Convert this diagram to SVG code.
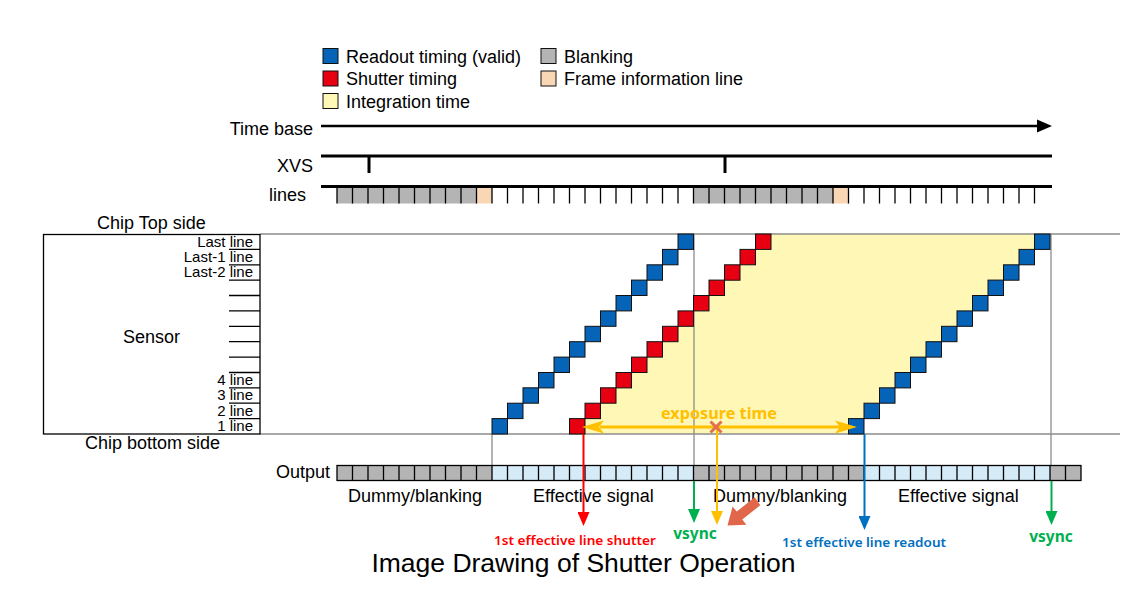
<svg xmlns="http://www.w3.org/2000/svg" width="1146" height="606" viewBox="0 0 1146 606">
<style>
text{font-family:"Liberation Sans",Arial,sans-serif;fill:#000}
.t18{font-size:18px}
.t15{font-size:15px}
.note{font-family:"Noto Sans","DejaVu Sans",sans-serif}
.blue{fill:#0563B8;stroke:#111;stroke-width:1}
.red{fill:#E60012;stroke:#111;stroke-width:1}
.gray{fill:#B4B4B4}
.peach{fill:#F9D7B5}
.lblue{fill:#D6EBF8}
.yel{fill:#FFF7B5}
.guide{stroke:#8C8C8C;stroke-width:1.3;fill:none}
.thick{stroke:#000;stroke-width:3;fill:none}
.tick{stroke:#000;stroke-width:1.3;fill:none}
</style>
<defs>
<marker id="ah" viewBox="0 0 14 12" refX="11" refY="6" markerWidth="14" markerHeight="12" markerUnits="userSpaceOnUse" orient="auto"><path d="M0,0L14,6L0,12z" fill="context-stroke"/></marker>
</defs>

<g id="legend">
<rect x="323" y="48.5" width="15" height="15" class="blue"/>
<text x="346" y="62.5" class="t18">Readout timing (valid)</text>
<rect x="323" y="71" width="15" height="15" class="red"/>
<text x="346" y="85" class="t18">Shutter timing</text>
<rect x="323" y="93.5" width="15" height="15" class="yel" stroke="#111" stroke-width="1"/>
<text x="346" y="107.5" class="t18">Integration time</text>
<rect x="541" y="48.5" width="15" height="15" class="gray" stroke="#111" stroke-width="1"/>
<text x="564" y="62.5" class="t18">Blanking</text>
<rect x="541" y="71" width="15" height="15" class="peach" stroke="#111" stroke-width="1"/>
<text x="564" y="85" class="t18">Frame information line</text>
</g>

<g id="timebase">
<text x="313" y="134.5" class="t18" text-anchor="end">Time base</text>
<line x1="321" y1="126" x2="1040" y2="126" stroke="#000" stroke-width="2.5"/>
<path d="M1052,126L1037,119.5L1037,132.5z" fill="#000"/>
</g>

<g id="xvs">
<text x="313" y="171.5" class="t18" text-anchor="end">XVS</text>
<line x1="321" y1="156" x2="1052" y2="156" class="thick"/>
<line x1="369" y1="156" x2="369" y2="173" class="thick"/>
<line x1="725" y1="156" x2="725" y2="173" class="thick"/>
</g>

<g id="lines">
<text x="306" y="201" class="t18" text-anchor="end">lines</text>
<rect x="337" y="187" width="139.5" height="16.5" class="gray"/>
<rect x="476.5" y="187" width="15.5" height="16.5" class="peach"/>
<rect x="693.5" y="187" width="139.5" height="16.5" class="gray"/>
<rect x="833" y="187" width="15.5" height="16.5" class="peach"/>
<path class="tick" d="M337 187v16.5M352.5 187v16.5M368 187v16.5M383.5 187v16.5M399 187v16.5M414.5 187v16.5M430 187v16.5M445.5 187v16.5M461 187v16.5M476.5 187v16.5M492 187v16.5M507.5 187v16.5M523 187v16.5M538.5 187v16.5M554 187v16.5M569.5 187v16.5M585 187v16.5M600.5 187v16.5M616 187v16.5M631.5 187v16.5M647 187v16.5M662.5 187v16.5M678 187v16.5M693.5 187v16.5M709 187v16.5M724.5 187v16.5M740 187v16.5M755.5 187v16.5M771 187v16.5M786.5 187v16.5M802 187v16.5M817.5 187v16.5M833 187v16.5M848.5 187v16.5M864 187v16.5M879.5 187v16.5M895 187v16.5M910.5 187v16.5M926 187v16.5M941.5 187v16.5M957 187v16.5M972.5 187v16.5M988 187v16.5M1003.5 187v16.5M1019 187v16.5M1034.5 187v16.5"/>
<line x1="321" y1="186.5" x2="1052" y2="186.5" class="thick"/>
</g>

<g id="integration">
<polygon class="yel" points="585,434 585,418.6 600.5,418.6 600.5,403.2 616,403.2 616,387.8 631.5,387.8 631.5,372.5 647,372.5 647,357.1 662.5,357.1 662.5,341.7 678,341.7 678,326.3 693.5,326.3 693.5,310.9 709,310.9 709,295.5 724.5,295.5 724.5,280.1 740,280.1 740,264.8 755.5,264.8 755.5,249.4 771,249.4 771,234 1034.5,234 1034.5,249.4 1019,249.4 1019,264.8 1003.5,264.8 1003.5,280.1 988,280.1 988,295.5 972.5,295.5 972.5,310.9 957,310.9 957,326.3 941.5,326.3 941.5,341.7 926,341.7 926,357.1 910.5,357.1 910.5,372.5 895,372.5 895,387.8 879.5,387.8 879.5,403.2 864,403.2 864,418.6 848.5,418.6 848.5,434"/>
</g>

<g id="guides">
<line x1="260" y1="234" x2="1120" y2="234" class="guide"/>
<line x1="260" y1="434" x2="1120" y2="434" class="guide"/>
<line x1="492" y1="434" x2="492" y2="465.5" class="guide"/>
<line x1="694" y1="234" x2="694" y2="465.5" class="guide"/>
<line x1="1051" y1="234" x2="1051" y2="465.5" class="guide"/>
</g>

<g id="sensor">
<rect x="43.5" y="234.5" width="216.5" height="199.5" fill="none" stroke="#000" stroke-width="1.3"/>
<text x="97" y="228.5" class="t18">Chip Top side</text>
<text x="85" y="449" class="t18">Chip bottom side</text>
<text x="123" y="343" class="t18">Sensor</text>
<path class="tick" d="M229 249.4h31M229 264.8h31M229 280.1h31M229 295.5h31M229 310.9h31M229 326.3h31M229 341.7h31M229 357.1h31M229 372.5h31M229 387.8h31M229 403.2h31M229 418.6h31"/>
<g class="t15" text-anchor="end">
<text x="253" y="246.5">Last line</text>
<text x="253" y="261.9">Last-1 line</text>
<text x="253" y="277.3">Last-2 line</text>
<text x="253" y="385">4 line</text>
<text x="253" y="400.3">3 line</text>
<text x="253" y="415.7">2 line</text>
<text x="253" y="431.1">1 line</text>
</g>
</g>

<g id="readout1">
<rect class="blue" x="492" y="418.6" width="15.5" height="15.4"/>
<rect class="blue" x="507.5" y="403.2" width="15.5" height="15.4"/>
<rect class="blue" x="523" y="387.8" width="15.5" height="15.4"/>
<rect class="blue" x="538.5" y="372.5" width="15.5" height="15.4"/>
<rect class="blue" x="554" y="357.1" width="15.5" height="15.4"/>
<rect class="blue" x="569.5" y="341.7" width="15.5" height="15.4"/>
<rect class="blue" x="585" y="326.3" width="15.5" height="15.4"/>
<rect class="blue" x="600.5" y="310.9" width="15.5" height="15.4"/>
<rect class="blue" x="616" y="295.5" width="15.5" height="15.4"/>
<rect class="blue" x="631.5" y="280.1" width="15.5" height="15.4"/>
<rect class="blue" x="647" y="264.8" width="15.5" height="15.4"/>
<rect class="blue" x="662.5" y="249.4" width="15.5" height="15.4"/>
<rect class="blue" x="678" y="234" width="15.5" height="15.4"/>
</g>

<g id="shutter">
<rect class="red" x="569.5" y="418.6" width="15.5" height="15.4"/>
<rect class="red" x="585" y="403.2" width="15.5" height="15.4"/>
<rect class="red" x="600.5" y="387.8" width="15.5" height="15.4"/>
<rect class="red" x="616" y="372.5" width="15.5" height="15.4"/>
<rect class="red" x="631.5" y="357.1" width="15.5" height="15.4"/>
<rect class="red" x="647" y="341.7" width="15.5" height="15.4"/>
<rect class="red" x="662.5" y="326.3" width="15.5" height="15.4"/>
<rect class="red" x="678" y="310.9" width="15.5" height="15.4"/>
<rect class="red" x="693.5" y="295.5" width="15.5" height="15.4"/>
<rect class="red" x="709" y="280.1" width="15.5" height="15.4"/>
<rect class="red" x="724.5" y="264.8" width="15.5" height="15.4"/>
<rect class="red" x="740" y="249.4" width="15.5" height="15.4"/>
<rect class="red" x="755.5" y="234" width="15.5" height="15.4"/>
</g>

<g id="readout2">
<rect class="blue" x="848.5" y="418.6" width="15.5" height="15.4"/>
<rect class="blue" x="864" y="403.2" width="15.5" height="15.4"/>
<rect class="blue" x="879.5" y="387.8" width="15.5" height="15.4"/>
<rect class="blue" x="895" y="372.5" width="15.5" height="15.4"/>
<rect class="blue" x="910.5" y="357.1" width="15.5" height="15.4"/>
<rect class="blue" x="926" y="341.7" width="15.5" height="15.4"/>
<rect class="blue" x="941.5" y="326.3" width="15.5" height="15.4"/>
<rect class="blue" x="957" y="310.9" width="15.5" height="15.4"/>
<rect class="blue" x="972.5" y="295.5" width="15.5" height="15.4"/>
<rect class="blue" x="988" y="280.1" width="15.5" height="15.4"/>
<rect class="blue" x="1003.5" y="264.8" width="15.5" height="15.4"/>
<rect class="blue" x="1019" y="249.4" width="15.5" height="15.4"/>
<rect class="blue" x="1034.5" y="234" width="15.5" height="15.4"/>
</g>

<g id="output">
<text x="330" y="478" class="t18" text-anchor="end">Output</text>
<rect x="337" y="465.5" width="155" height="15" class="gray"/>
<rect x="492" y="465.5" width="201.5" height="15" class="lblue"/>
<rect x="693.5" y="465.5" width="170.5" height="15" class="gray"/>
<rect x="864" y="465.5" width="186" height="15" class="lblue"/>
<rect x="1050" y="465.5" width="31" height="15" class="gray"/>
<path class="tick" stroke-width="1" d="M352.5 465.5v15M368 465.5v15M383.5 465.5v15M399 465.5v15M414.5 465.5v15M430 465.5v15M445.5 465.5v15M461 465.5v15M476.5 465.5v15M492 465.5v15M507.5 465.5v15M523 465.5v15M538.5 465.5v15M554 465.5v15M569.5 465.5v15M585 465.5v15M600.5 465.5v15M616 465.5v15M631.5 465.5v15M647 465.5v15M662.5 465.5v15M678 465.5v15M693.5 465.5v15M709 465.5v15M724.5 465.5v15M740 465.5v15M755.5 465.5v15M771 465.5v15M786.5 465.5v15M802 465.5v15M817.5 465.5v15M833 465.5v15M848.5 465.5v15M864 465.5v15M879.5 465.5v15M895 465.5v15M910.5 465.5v15M926 465.5v15M941.5 465.5v15M957 465.5v15M972.5 465.5v15M988 465.5v15M1003.5 465.5v15M1019 465.5v15M1034.5 465.5v15M1050 465.5v15M1065.5 465.5v15"/>
<rect x="337" y="465.5" width="744" height="15" fill="none" stroke="#000" stroke-width="1.3"/>
<text x="348" y="502" class="t18">Dummy/blanking</text>
<text x="533" y="502" class="t18">Effective signal</text>
<text x="713" y="502" class="t18">Dummy/blanking</text>
<text x="898" y="502" class="t18">Effective signal</text>
</g>

<g id="connectors">
<line x1="583.5" y1="434" x2="583.5" y2="523" stroke="#FF0000" stroke-width="2" marker-end="url(#ah)"/>
<line x1="864.5" y1="434" x2="864.5" y2="527" stroke="#0070C0" stroke-width="2" marker-end="url(#ah)"/>
<line x1="717" y1="427" x2="717" y2="522" stroke="#FFC000" stroke-width="2" marker-end="url(#ah)"/>
<line x1="694" y1="481" x2="694" y2="520" stroke="#00B050" stroke-width="2" marker-end="url(#ah)"/>
<line x1="1051.5" y1="481" x2="1051.5" y2="522" stroke="#00B050" stroke-width="2" marker-end="url(#ah)"/>
<line x1="600" y1="427" x2="840" y2="427" stroke="#FFC000" stroke-width="3"/>
<path d="M582,427L604,420.5L599,427L604,433.5z" fill="#FFC000"/>
<path d="M857,427L835,420.5L840,427L835,433.5z" fill="#FFC000"/>
<path d="M710.5,421.5L721.5,432.5M721.5,421.5L710.5,432.5" stroke="#E0704E" stroke-width="3" fill="none"/>
<polygon points="760.3,505.2 742.3,519.5 746.4,524.7 727.5,525.5 732.6,506.4 736.7,511.6 754.7,497.3" fill="#E0674A"/>
</g>

<g id="labels">
<text x="661" y="419" class="note" font-size="16" font-weight="bold" textLength="116" lengthAdjust="spacingAndGlyphs" style="fill:#FFC000">exposure time</text>
<text x="575" y="545" class="note" font-size="12.5" font-weight="600" text-anchor="middle" textLength="162" lengthAdjust="spacingAndGlyphs" style="fill:#FF0000">1st effective line shutter</text>
<text x="864" y="547" class="note" font-size="12.5" font-weight="600" text-anchor="middle" textLength="164" lengthAdjust="spacingAndGlyphs" style="fill:#0070C0">1st effective line readout</text>
<text x="695" y="539" class="note" font-size="15.5" font-weight="bold" text-anchor="middle" style="fill:#00B050">vsync</text>
<text x="1051" y="542" class="note" font-size="15.5" font-weight="bold" text-anchor="middle" style="fill:#00B050">vsync</text>
<text x="583.5" y="572" font-size="26.5" text-anchor="middle">Image Drawing of Shutter Operation</text>
</g>
</svg>
